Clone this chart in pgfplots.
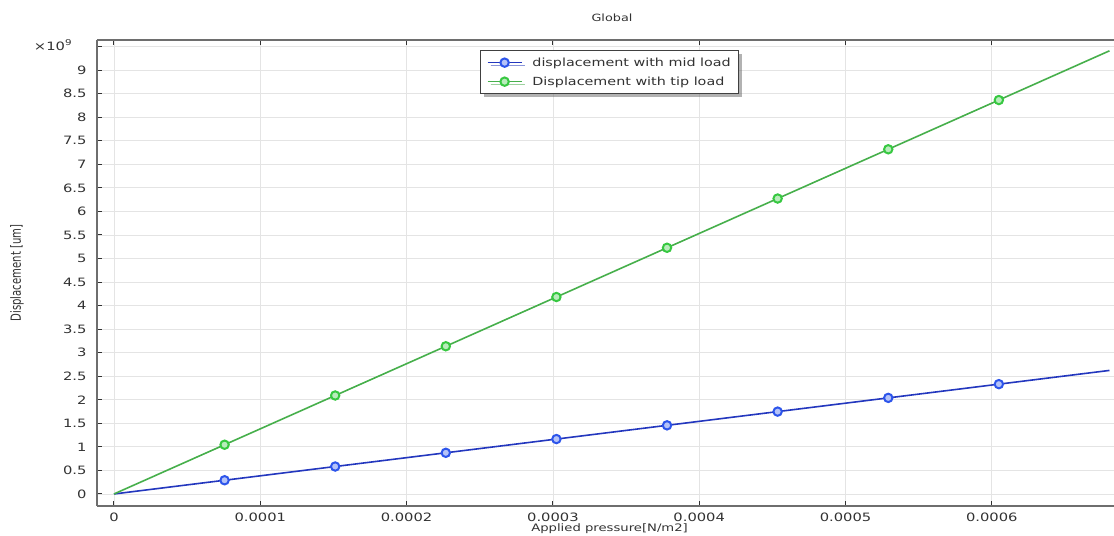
\documentclass[border=0pt]{standalone}
\usepackage{pgfplots}
\pgfplotsset{compat=1.18}
\usepackage{fontspec}
\setmainfont[FakeStretch=1.28]{DejaVu Sans}
\newfontfamily\condfont[FakeStretch=0.72]{DejaVu Sans}
\usetikzlibrary{calc,shadows}
\definecolor{bluel}{RGB}{35,55,190}
\definecolor{bluem}{RGB}{45,85,235}
\definecolor{greenl}{RGB}{70,175,75}
\definecolor{greenm}{RGB}{55,200,65}
\definecolor{spine}{RGB}{110,110,110}
\definecolor{gridc}{RGB}{228,228,228}
\definecolor{txt}{RGB}{50,50,50}
\pgfplotstableread{
x          mid     tip
0          0       0
0.0000756  0.2915  1.0456
0.0001512  0.5830  2.0912
0.0002268  0.8745  3.1368
0.0003024  1.1660  4.1824
0.0003780  1.4575  5.2280
0.0004536  1.7490  6.2736
0.0005292  2.0405  7.3192
0.0006048  2.3320  8.3648
0.0006804  2.6235  9.4104
}\datatab
\begin{document}
\begin{tikzpicture}
\begin{axis}[
  name=ax,
  scale only axis,
  width=1017pt, height=466pt,
  xmin=-0.0000116, xmax=0.0006835,
  ymin=-0.255, ymax=9.64,
  separate axis lines,
  axis x line*=box,
  axis y line*=left,
  axis line style={spine, line width=1.4pt},
  xtick={0,0.0001,0.0002,0.0003,0.0004,0.0005,0.0006},
  xticklabels={\mbox{0},\mbox{0.0001},\mbox{0.0002},\mbox{0.0003},\mbox{0.0004},\mbox{0.0005},\mbox{0.0006}},
  ytick={0,0.5,...,9.5},
  yticklabels={\mbox{0},\mbox{0.5},\mbox{1},\mbox{1.5},\mbox{2},\mbox{2.5},\mbox{3},\mbox{3.5},\mbox{4},\mbox{4.5},\mbox{5},\mbox{5.5},\mbox{6},\mbox{6.5},\mbox{7},\mbox{7.5},\mbox{8},\mbox{8.5},\mbox{9},},
  scaled x ticks=false,
  tick align=inside,
  major tick length=5pt,
  tick style={txt, line width=1pt},
  xtick pos=both,
  ytick pos=left,
  grid=major,
  major grid style={gridc, line width=0.8pt},
  ticklabel style={font=\fontsize{11.5}{13}\selectfont, text=txt},
  xticklabel style={yshift=-3pt},
  yticklabel style={xshift=-7pt},
  every axis y label/.style={at={(axis description cs:-0.0787,0.5)}, rotate=90, anchor=center},
  ylabel={\condfont Displacement [um]},
  ylabel style={font=\fontsize{14}{16}\selectfont, text=txt},
  every axis x label/.style={at={(axis description cs:0.504,-0.049)}, anchor=center},
  xlabel={Applied pressure[N/m2]},
  xlabel style={font=\fontsize{10.3}{12}\selectfont, text=txt},
  legend style={at={(axis description cs:0.377,0.978)}, anchor=north west,
    draw=black!75, line width=0.8pt, fill=white,
    drop shadow={shadow xshift=3pt, shadow yshift=-3pt, fill=black!60},
    font=\fontsize{11.2}{13}\selectfont, text=txt,
    inner xsep=6pt, inner ysep=5pt, row sep=5pt},
  legend cell align=left,
  legend image code/.code={
    \draw[#1, mark=none] (0pt,0pt) -- (34pt,0pt);
    \draw[#1, only marks, mark indices={1}] plot coordinates {(17pt,0pt)};
    \path (42pt,0pt);
  },
  clip=true,
]
\addplot[bluel, line width=1.6pt, mark=*, mark indices={2,...,9}, mark size=4.2pt,
  mark options={draw=bluem, fill=bluem!35, line width=2pt}]
  table[x=x, y=mid] {\datatab};
\addlegendentry{displacement with mid load}
\addplot[greenl, line width=1.6pt, mark=*, mark indices={2,...,9}, mark size=4.2pt,
  mark options={draw=greenm, fill=greenm!35, line width=2pt}]
  table[x=x, y=tip] {\datatab};
\addlegendentry{Displacement with tip load}
\end{axis}
\node[font=\fontsize{11.5}{13}\selectfont, text=txt] at ($(ax.north west)+(-44pt,-5pt)$) {×10\textsuperscript{9}};
\node[font=\fontsize{10}{12}\selectfont, text=txt] at ($(ax.north west)+(515pt,22pt)$) {Global};
\pgfresetboundingbox
\path[use as bounding box] ($(ax.south west)+(-97pt,-30pt)$) rectangle ($(ax.north east)+(0,40pt)$);
\end{tikzpicture}
\end{document}
